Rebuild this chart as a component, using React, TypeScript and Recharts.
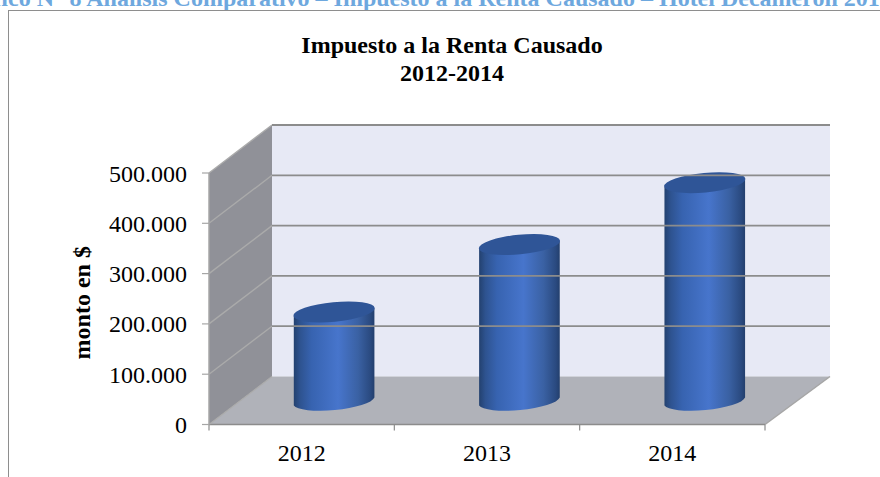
import React from "react";
import { BarChart, Bar, XAxis, YAxis, ReferenceArea, ReferenceLine } from "recharts";

const categories = ["2012", "2013", "2014"];
const amounts = [178000, 312000, 435000];
const yTicks = [0, 100000, 200000, 300000, 400000, 500000];
const chartTitle = ["Impuesto a la Renta Causado", "2012-2014"];
const docHeading = "Gráfico N° 8 Análisis Comparativo – Impuesto a la Renta Causado – Hotel Decameron 2012-2014";
const yAxisTitle = "monto en $";

const data = categories.map((c, i) => ({ year: c, amount: amounts[i] }));
const DX = 63;
const DY = 48;
const BACK_EXTRA = 2;
const GRID = "#8c8c8c";
const FONT = "'Liberation Serif', serif";
const fmt = (v: number) => (v === 0 ? "0" : v.toLocaleString("de-DE"));

function Walls(props: any) {
  const { x, y, width, height } = props;
  const b = y + height;
  const r = x + width;
  const band = width / categories.length;
  const backR = r + DX + BACK_EXTRA;
  return (
    <g>
      <rect x={x + DX} y={y - DY} width={width + BACK_EXTRA} height={height} fill="#e7e9f5" />
      <polygon points={`${x},${y} ${x + DX},${y - DY} ${x + DX},${b - DY} ${x},${b}`} fill="#909198" />
      <polygon points={`${x},${b} ${x + DX},${b - DY} ${backR},${b - DY} ${r},${b}`} fill="#b0b2b9" />
      <line x1={x} y1={y} x2={x} y2={b} stroke="#a6a6a6" strokeWidth={1.5} />
      <line x1={x} y1={b} x2={r} y2={b} stroke={GRID} strokeWidth={1.5} />
      <line x1={x} y1={b} x2={x + DX} y2={b - DY} stroke="#aaaaaa" strokeWidth={1.2} />
      <line x1={r} y1={b} x2={backR} y2={b - DY} stroke="#a6a6a6" strokeWidth={1.5} />
      {[0, 1, 2, 3].map((i) => (
        <line key={i} x1={x + band * i} y1={b} x2={x + band * i} y2={b + 6} stroke={GRID} strokeWidth={1.2} />
      ))}
    </g>
  );
}

function GridLine(props: any) {
  const { x1, y1, x2, y2 } = props;
  return (
    <g>
      <line x1={x1} y1={y1} x2={x1 + DX} y2={y1 - DY} stroke="#aaaaaa" strokeWidth={1.4} />
      <line x1={x1 + DX} y1={y1 - DY} x2={x2 + DX + BACK_EXTRA} y2={y2 - DY} stroke={GRID} strokeWidth={1.8} />
    </g>
  );
}

function Cylinder(props: any) {
  const { x, y, width, height } = props;
  const w = width;
  const cx = x + w / 2 + 32.6;
  const topY = y - 23;
  const botY = y + height - 23;
  const rx = w / 2 + 0.3;
  const ry = 9.8;
  const tilt = -5.5;
  const ex = (w / 2) * Math.cos((tilt * Math.PI) / 180);
  const ey = (w / 2) * Math.sin((tilt * Math.PI) / 180);
  const body = `M ${cx - ex} ${topY - ey} L ${cx - ex} ${botY - ey}
    A ${rx} ${ry} ${tilt} 0 0 ${cx + ex} ${botY + ey}
    L ${cx + ex} ${topY + ey}
    A ${rx} ${ry} ${tilt} 0 1 ${cx - ex} ${topY - ey} Z`;
  return (
    <g>
      <path d={body} fill="url(#cylBody)" />
      <ellipse cx={cx} cy={topY} rx={rx} ry={ry} fill="#2f5597" transform={`rotate(${tilt} ${cx} ${topY})`} />
    </g>
  );
}

function XTick(props: any) {
  const { x, y, payload } = props;
  return (
    <text x={x} y={y + 28} textAnchor="middle" fontFamily={FONT} fontSize={24} fill="#000">
      {payload.value}
    </text>
  );
}

export default function App() {
  return (
    <div style={{ position: "absolute", left: 0, top: 0, width: 880, height: 477, overflow: "hidden", background: "#fff" }}>
      <div
        style={{
          position: "absolute", left: -48, top: -14.5, whiteSpace: "nowrap",
          fontFamily: FONT, fontWeight: 700, fontSize: 24, color: "#6ea8de", lineHeight: "24px",
        }}
      >
        {docHeading}
      </div>
      <div style={{ position: "absolute", left: 8, top: 10, width: 872, height: 467, borderLeft: "1.5px solid #8e8e8e", borderTop: "1.5px solid #8e8e8e" }} />
      <div style={{ position: "absolute", left: 0, top: 30.5, textAlign: "center", width: 904, fontFamily: FONT, fontWeight: 700, fontSize: 24, lineHeight: "28px", color: "#000" }}>
        {chartTitle.map((t) => (
          <div key={t}>{t}</div>
        ))}
      </div>
      <div style={{ position: "absolute", left: 0, top: 0 }}>
        <BarChart
          width={880}
          height={477}
          data={data}
          margin={{ top: 173, right: 115, bottom: 0, left: 0 }}
          barCategoryGap="0%"
          style={{ background: "transparent" }}
        >
          <defs>
            <linearGradient id="cylBody" x1="0" y1="0" x2="1" y2="0">
              <stop offset="0" stopColor="#23416f" />
              <stop offset="0.08" stopColor="#2e5390" />
              <stop offset="0.22" stopColor="#3763b0" />
              <stop offset="0.55" stopColor="#4775cc" />
              <stop offset="0.8" stopColor="#3a61a3" />
              <stop offset="0.95" stopColor="#2a4a80" />
              <stop offset="1" stopColor="#233f6d" />
            </linearGradient>
          </defs>
          <XAxis dataKey="year" axisLine={false} tickLine={false} tick={<XTick />} interval={0} height={52.5} />
          <YAxis
            domain={[0, 500000]}
            ticks={yTicks}
            tickFormatter={fmt}
            width={209}
            axisLine={false}
            tickSize={7}
            tickMargin={15}
            tickLine={{ stroke: "#a6a6a6", strokeWidth: 1.2 }}
            tick={{ fontFamily: FONT, fontSize: 24, fill: "#000" }}
            interval={0}
            label={{ value: yAxisTitle, angle: -90, position: "insideLeft", offset: 81, dy: 4, style: { fontFamily: FONT, fontWeight: 700, fontSize: 24, fill: "#000", textAnchor: "middle" } }}
          />
          <ReferenceArea y1={0} y2={500000} shape={<Walls />} fill="none" stroke="none" ifOverflow="visible" />
          {yTicks.slice(1).map((t) => (
            <ReferenceLine key={t} y={t} shape={<GridLine />} ifOverflow="visible" />
          ))}
          <Bar dataKey="amount" barSize={81} shape={<Cylinder />} isAnimationActive={false} />
        </BarChart>
      </div>
    </div>
  );
}
